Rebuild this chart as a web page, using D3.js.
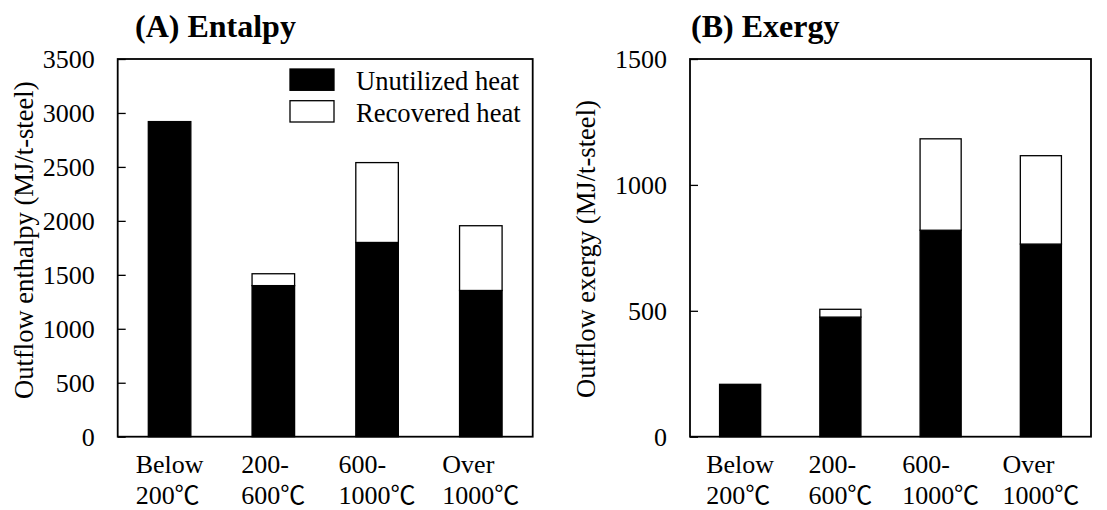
<!DOCTYPE html>
<html>
<head>
<meta charset="utf-8">
<script src="https://d3js.org/d3.v7.min.js"></script>
<style>
  body { margin: 0; background: white; }
  svg text { font-family: "Liberation Serif", "Noto Sans CJK JP", serif; fill: black; }
  .deg { font-family: "Noto Sans CJK JP", "DejaVu Serif", serif; }
</style>
</head>
<body>
<svg width="1107" height="510"></svg>
<script>
// categories (two-line tick labels)
var categories = ["Below 200℃", "200-600℃", "600-1000℃", "Over 1000℃"];
var catLines = [["Below", "200℃"], ["200-", "600℃"], ["600-", "1000℃"], ["Over", "1000℃"]];

// (A) enthalpy, MJ/t-steel
var enthalpyUnutilized = [2920, 1400, 1800, 1355];
var enthalpyRecovered  = [0, 110, 740, 600];
var enthalpyTicks = [0, 500, 1000, 1500, 2000, 2500, 3000, 3500];

// (B) exergy, MJ/t-steel
var exergyUnutilized = [208, 475, 820, 765];
var exergyRecovered  = [0, 31, 363, 351];
var exergyTicks = [0, 500, 1000, 1500];

var legendLabels = ["Unutilized heat", "Recovered heat"];
var fills = ["black", "white"];

var svg = d3.select("svg");
var top0 = 59, bottom0 = 436.7;

function panel(opt) {
  var x = d3.scaleBand().domain(categories).range([opt.left, opt.right])
    .paddingInner(0.59).paddingOuter(0.295);
  var y = d3.scaleLinear().domain([0, opt.max]).range([bottom0, top0]);

  var rows = categories.map(function(c, i) {
    return { cat: c, unutil: opt.unutil[i], recov: opt.recov[i] };
  });
  var series = d3.stack().keys(["unutil", "recov"])(rows);

  var g = svg.append("g");
  g.selectAll("g.series")
    .data(series)
    .enter().append("g")
    .attr("fill", function(d, i) { return fills[i]; })
    .selectAll("rect")
    .data(function(d) { return d.filter(function(s) { return s[1] - s[0] > 0; }); })
    .enter().append("rect")
    .attr("x", function(d) { return x(d.data.cat); })
    .attr("width", x.bandwidth())
    .attr("y", function(d) { return y(d[1]); })
    .attr("height", function(d) { return y(d[0]) - y(d[1]); })
    .attr("stroke", "black")
    .attr("stroke-width", 1.3);

  // frame
  g.append("rect")
    .attr("x", opt.left).attr("y", top0)
    .attr("width", opt.right - opt.left).attr("height", bottom0 - top0)
    .attr("fill", "none").attr("stroke", "black").attr("stroke-width", 1.8);

  // y axis, ticks inside
  var ax = g.append("g")
    .attr("transform", "translate(" + opt.left + ",0)")
    .call(d3.axisLeft(y).tickValues(opt.ticks).tickFormat(d3.format("d"))
      .tickSizeInner(-8).tickSizeOuter(0).tickPadding(23));
  ax.attr("font-family", null).attr("font-size", null);
  ax.select(".domain").remove();
  ax.selectAll("line").attr("stroke", "black").attr("stroke-width", 1.3);
  ax.selectAll("text").attr("font-size", 26).attr("dy", "0.34em");

  // category labels
  var cl = g.selectAll("g.cat")
    .data(categories)
    .enter().append("g")
    .attr("transform", function(d) { return "translate(" + (x(d) + x.bandwidth() / 2) + ",0)"; });
  cl.each(function(d, i) {
    var gg = d3.select(this);
    var texts = gg.selectAll("text")
      .data(catLines[i])
      .enter().append("text")
      .attr("y", function(t, j) { return j === 0 ? 472.7 : 504; })
      .attr("font-size", 26);
    texts.each(function(t) {
      var el = d3.select(this);
      var k = t.indexOf("℃");
      if (k < 0) { el.text(t); return; }
      el.append("tspan").text(t.slice(0, k));
      el.append("tspan").attr("class", "deg").attr("font-size", 25).text("℃");
    });
    var w = 0;
    texts.each(function() { w = Math.max(w, this.getComputedTextLength()); });
    texts.attr("x", -w / 2);
  });

  // axis title
  g.append("text")
    .attr("transform", "translate(" + opt.labelX + "," + opt.labelY + ") rotate(-90)")
    .attr("font-size", 26.6)
    .text(opt.yLabel);

  // panel title
  g.append("text")
    .attr("x", opt.titleX).attr("y", 37)
    .attr("font-size", 32).attr("font-weight", "bold")
    .text(opt.title);

  return g;
}

var gA = panel({
  left: 117.7, right: 532.7, max: 3500, ticks: enthalpyTicks,
  unutil: enthalpyUnutilized, recov: enthalpyRecovered,
  yLabel: "Outflow enthalpy (MJ/t-steel)", labelX: 33, labelY: 399,
  title: "(A) Entalpy", titleX: 135
});

panel({
  left: 690, right: 1091, max: 1500, ticks: exergyTicks,
  unutil: exergyUnutilized, recov: exergyRecovered,
  yLabel: "Outflow exergy (MJ/t-steel)", labelX: 595, labelY: 398,
  title: "(B) Exergy", titleX: 691
});

// legend (panel A)
var leg = gA.selectAll("g.legend")
  .data(legendLabels)
  .enter().append("g")
  .attr("transform", function(d, i) { return "translate(290," + (69 + i * 31.7) + ")"; });
leg.append("rect")
  .attr("width", 44).attr("height", 21.3)
  .attr("fill", function(d, i) { return fills[i]; })
  .attr("stroke", "black").attr("stroke-width", 1.3);
leg.append("text")
  .attr("x", 66).attr("y", 21)
  .attr("font-size", 26.6)
  .text(function(d) { return d; });
</script>
</body>
</html>
